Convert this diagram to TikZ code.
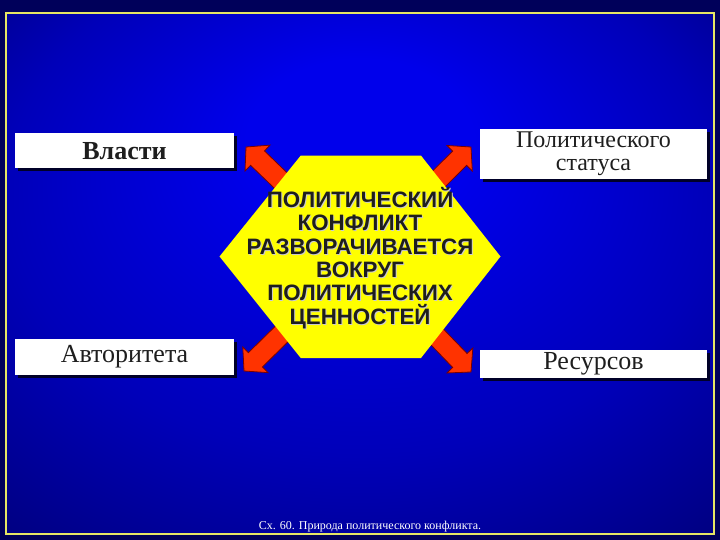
\documentclass[tikz,border=0pt]{standalone}
\usepackage{fontspec}
\setmainfont{Liberation Serif}
\newfontfamily\hexfont{Liberation Sans}
\usetikzlibrary{calc, shadows}

\definecolor{outerbg}{RGB}{0,0,90}
\definecolor{slidecenter}{RGB}{0,0,235}
\definecolor{slidemid}{RGB}{0,0,185}
\definecolor{slidedark}{RGB}{0,0,130}
\definecolor{slideedge}{RGB}{0,0,100}
\definecolor{framey}{RGB}{230,230,100}
\definecolor{arrowred}{RGB}{255,51,0}
\definecolor{arrowdark}{RGB}{120,0,0}
\definecolor{hexyellow}{RGB}{255,255,0}
\definecolor{textgray}{RGB}{30,30,30}
\definecolor{shadowblue}{RGB}{0,0,40}

\pgfdeclareradialshading{slide}{\pgfpoint{0bp}{15bp}}{color(0bp)=(slidecenter); color(8bp)=(slidecenter); color(25bp)=(slidemid); color(38bp)=(slidedark); color(50bp)=(slideedge)}

\tikzset{%
    labelbox/.style={fill=white, inner sep=0pt, align=center, text=textgray,
        font=\fontsize{26}{26}\selectfont,
        drop shadow={shadow xshift=3pt, shadow yshift=-3pt, fill=shadowblue, opacity=1}},
    arrowblock/.style={fill=arrowred, draw=arrowdark, line width=0.8pt, line join=miter},
    hexfill/.style={fill=hexyellow},
    hextext/.style={align=center, font=\hexfont\bfseries\fontsize{22.3}{23.4}\selectfont},
    caption/.style={text=white, font=\fontsize{12}{12}\selectfont},
}

% block arrow from #1 (base) to #2 (tip)
\newcommand{\blockarrow}[2]{%
    \path ($(#2)!16pt!(#1)$) coordinate (hb);
    \draw[arrowblock] ($(#1)!10pt!90:(#2)$) -- ($(hb)!10pt!90:(#2)$)
        -- ($(hb)!18pt!90:(#2)$) -- (#2) -- ($(hb)!18pt!-90:(#2)$)
        -- ($(hb)!10pt!-90:(#2)$) -- ($(#1)!10pt!-90:(#2)$) -- cycle;
}

\begin{document}
\begin{tikzpicture}[x=1pt, y=-1pt]

	\useasboundingbox (0,0) rectangle (720,540);

	% background
	\fill[outerbg] (0,0) rectangle (720,540);
	\shade[shading=slide] (6,13) rectangle (714,534);
	\draw[framey, line width=2pt] (6,13) rectangle (714,534);

	% hexagon corners
	\coordinate (hex w)  at (219.5,256.5);
	\coordinate (hex nw) at (300.7,155.6);
	\coordinate (hex ne) at (421,155.6);
	\coordinate (hex e)  at (500.5,256.5);
	\coordinate (hex se) at (421,358);
	\coordinate (hex sw) at (300.7,358);
	\coordinate (hexc)   at (360,257);

	% arrow tips
	\coordinate (tip power)     at (246,147);
	\coordinate (tip status)    at (471,147);
	\coordinate (tip authority) at (244,371);
	\coordinate (tip resources) at (471,372);

	% arrows
	\blockarrow{hexc}{tip power}
	\blockarrow{hexc}{tip status}
	\blockarrow{hexc}{tip authority}
	\blockarrow{hexc}{tip resources}

	% hexagon
	\fill[hexfill] (hex w) -- (hex nw) -- (hex ne) -- (hex e) -- (hex se) -- (hex sw) -- cycle;
	\node[hextext, text=gray!40] at (361,259) {ПОЛИТИЧЕСКИЙ\\КОНФЛИКТ\\РАЗВОРАЧИВАЕТСЯ\\ВОКРУГ\\ПОЛИТИЧЕСКИХ\\ЦЕННОСТЕЙ};
	\node[hextext, text=textgray] (hex) at (360,258) {ПОЛИТИЧЕСКИЙ\\КОНФЛИКТ\\РАЗВОРАЧИВАЕТСЯ\\ВОКРУГ\\ПОЛИТИЧЕСКИХ\\ЦЕННОСТЕЙ};

	% boxes
	\node[labelbox, minimum width=219pt, minimum height=35.5pt, font=\bfseries\fontsize{26}{26}\selectfont] (power) at (124.5,150.75) {Власти};
	\node[labelbox, minimum width=227pt, minimum height=50pt, font=\fontsize{24}{23}\selectfont] (status) at (593.5,154) {Политического\\статуса};
	\node[labelbox, minimum width=219pt, minimum height=36.5pt] (authority) at (124.5,356.75) {Авторитета};
	\node[labelbox, minimum width=227pt, minimum height=28.5pt] (resources) at (593.5,363.75) {Ресурсов};

	% caption
	\node[caption] (cap) at (370,527) {Сх. 60. Природа политического конфликта.};

\end{tikzpicture}
\end{document}
